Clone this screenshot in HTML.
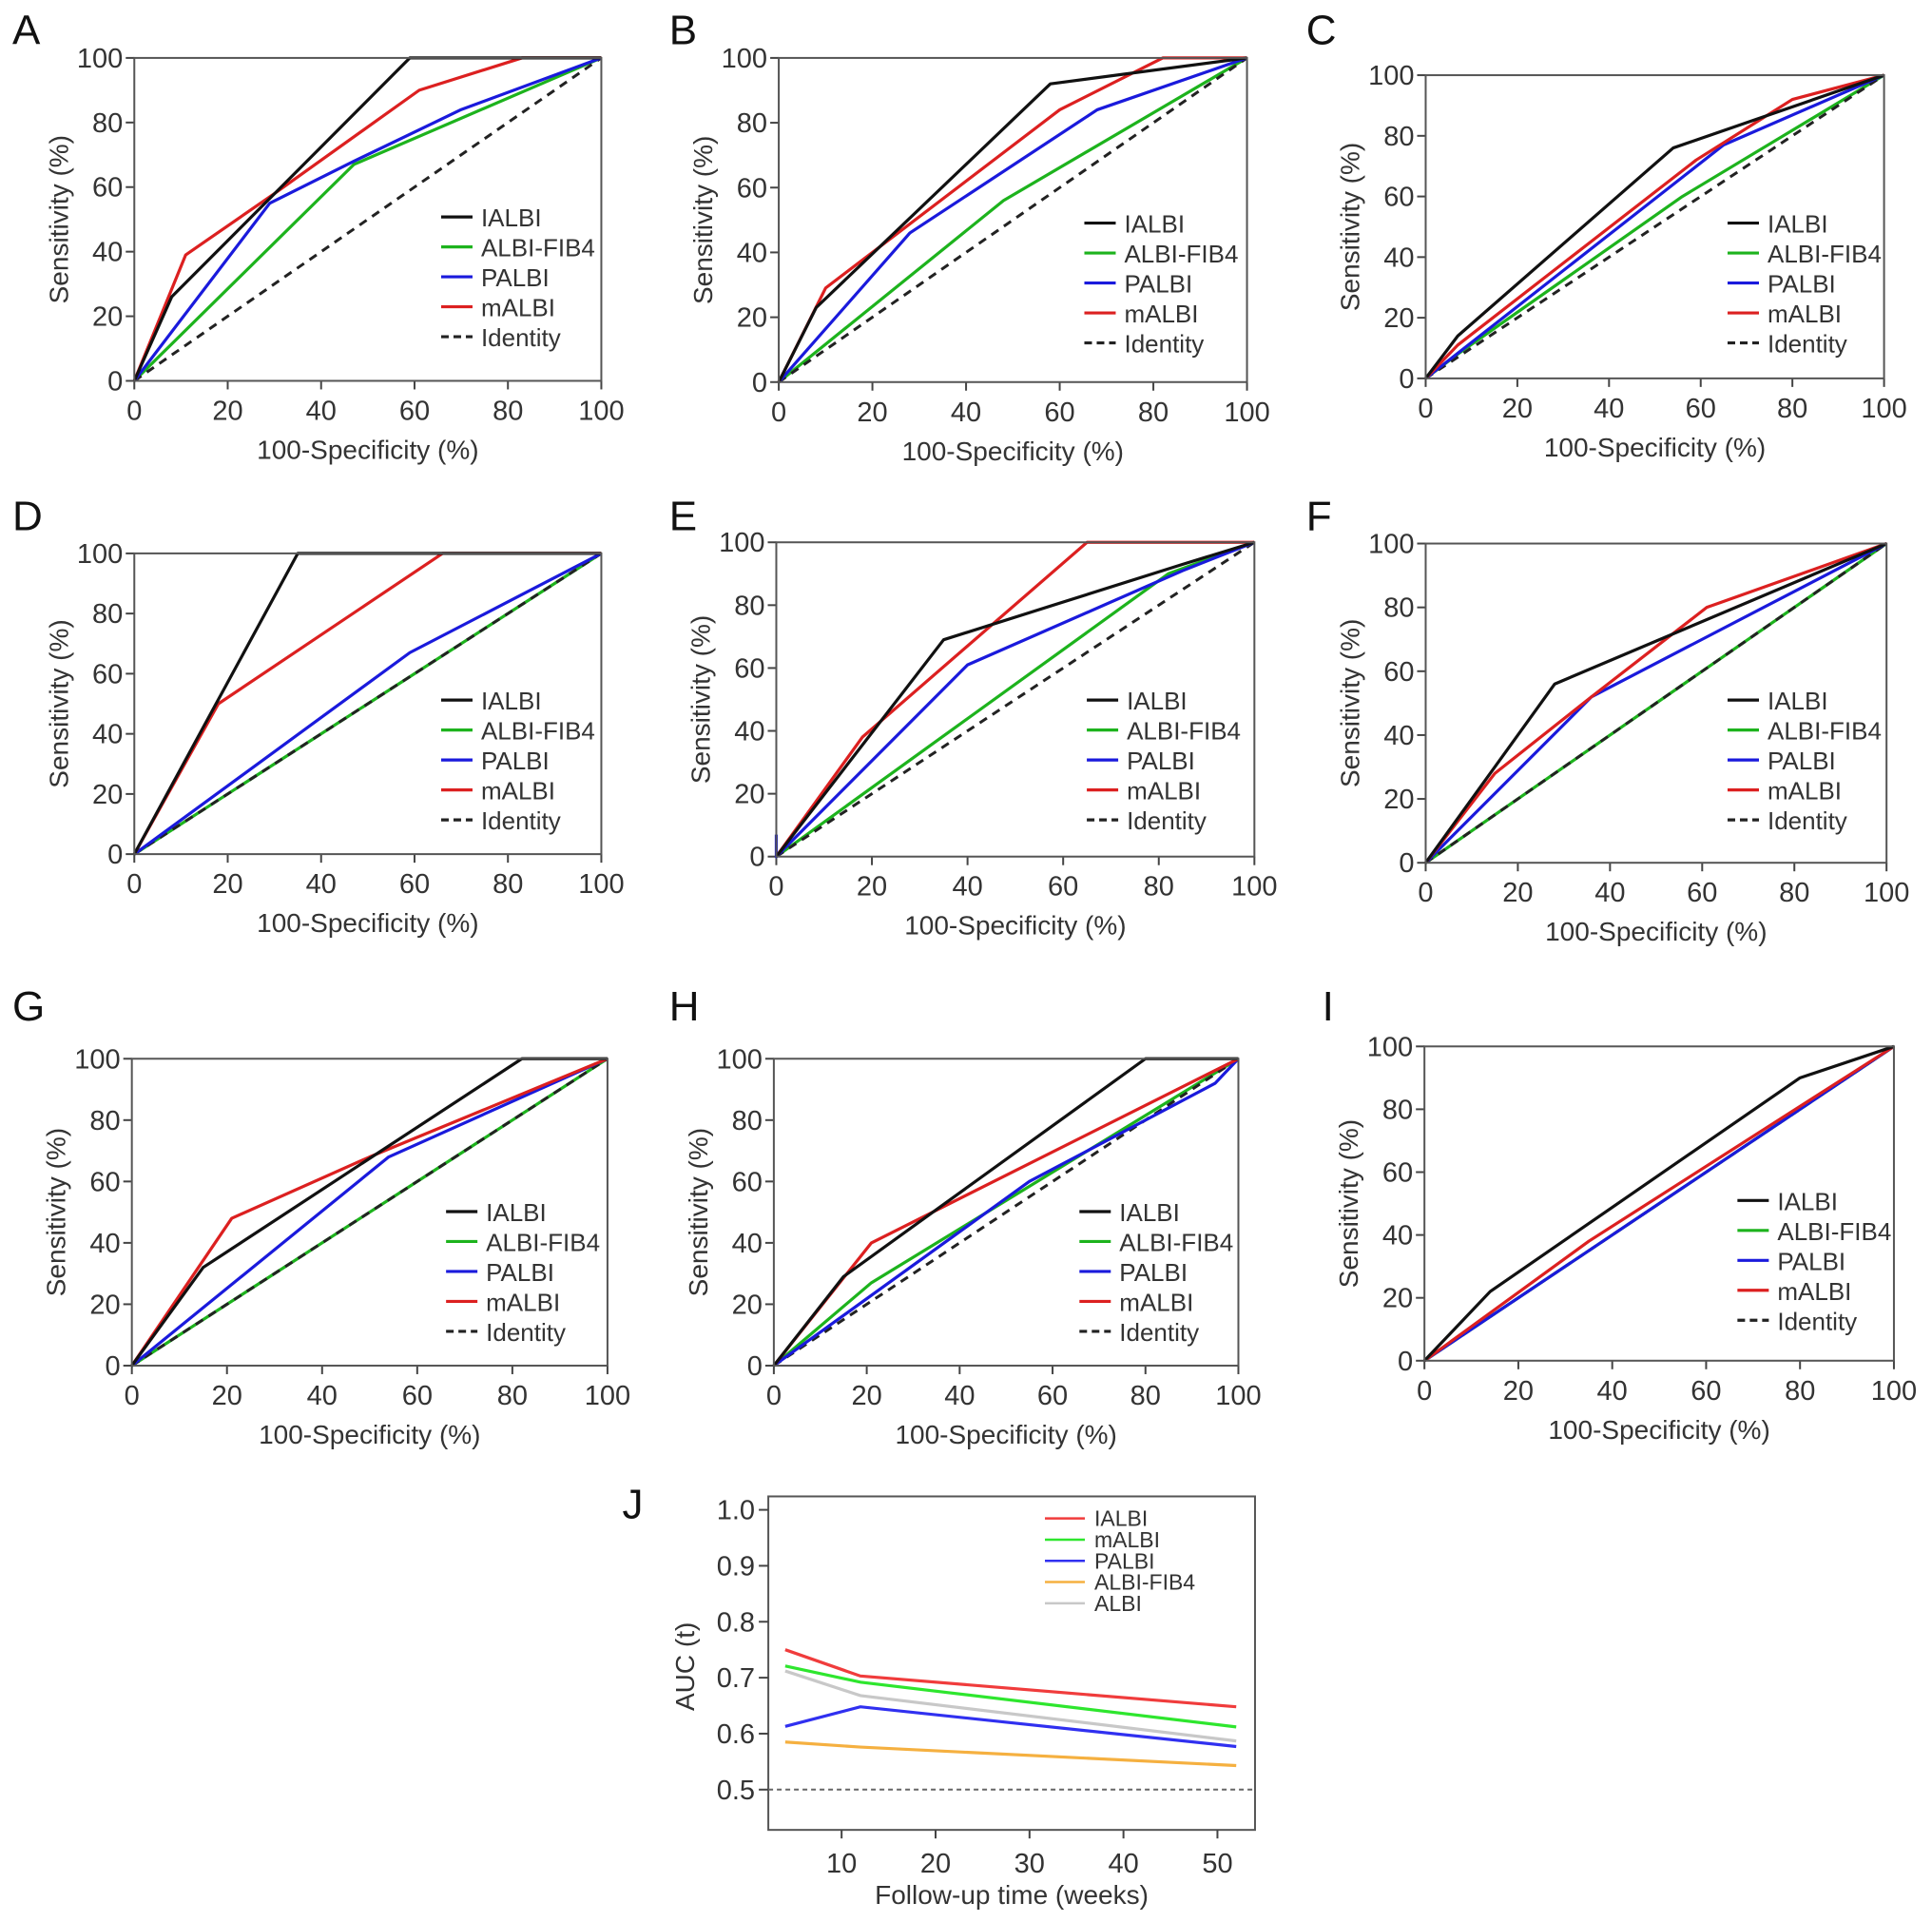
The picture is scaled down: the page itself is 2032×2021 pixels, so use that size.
<!DOCTYPE html>
<html><head><meta charset="utf-8"><style>
html,body{margin:0;padding:0;background:#fff;}
svg{display:block;font-family:"Liberation Sans",Arial,sans-serif;}
</style></head><body>
<svg id="fig" width="2032" height="2021" viewBox="0 0 2032 2021" xmlns="http://www.w3.org/2000/svg"></svg>
<script>
// ---------- data ----------
const seriesNames = ["IALBI","ALBI-FIB4","PALBI","mALBI"];
const seriesColors = {"IALBI":"#111","ALBI-FIB4":"#1db31d","PALBI":"#1a1adc","mALBI":"#dc2020"};
const xTicks = [0,20,40,60,80,100];
const yTicks = [0,20,40,60,80,100];
const panelLetters = ["A","B","C","D","E","F","G","H","I"];
const rocA = {"IALBI":[[0,0],[8,26],[59,100],[100,100]],"mALBI":[[0,0],[11,39],[30,58],[61,90],[83,100],[100,100]],"PALBI":[[0,0],[29,55],[47,68],[70,84],[100,100]],"ALBI-FIB4":[[0,0],[47,67],[100,100]]};
const rocB = {"IALBI":[[0,0],[8,23],[58,92],[100,100]],"mALBI":[[0,0],[10,29],[60,84],[82,100],[100,100]],"PALBI":[[0,0],[28,46],[68,84],[100,100]],"ALBI-FIB4":[[0,0],[48,56],[100,100]]};
const rocC = {"IALBI":[[0,0],[7,14],[54,76],[100,100]],"mALBI":[[0,0],[7,11],[59,72],[80,92],[100,100]],"PALBI":[[0,0],[65,77],[100,100]],"ALBI-FIB4":[[0,0],[7,8],[56,60],[100,100]]};
const rocD = {"IALBI":[[0,0],[35,100],[100,100]],"mALBI":[[0,0],[18,50],[66,100],[100,100]],"PALBI":[[0,0],[59,67],[100,100]],"ALBI-FIB4":[[0,0],[100,100]]};
const rocE = {"IALBI":[[0,0],[35,69],[85,93],[100,100]],"mALBI":[[0,0],[18,38],[65,100],[100,100]],"PALBI":[[0,7],[0,0],[40,61],[85,91],[100,100]],"ALBI-FIB4":[[0,0],[82,90],[100,100]]};
const rocF = {"IALBI":[[0,0],[28,56],[100,100]],"mALBI":[[0,0],[15,28],[36,52],[61,80],[100,100]],"PALBI":[[0,0],[36,52],[100,100]],"ALBI-FIB4":[[0,0],[100,100]]};
const rocG = {"IALBI":[[0,0],[15,32],[82,100],[100,100]],"mALBI":[[0,0],[21,48],[50,68],[100,100]],"PALBI":[[0,0],[54,68],[100,100]],"ALBI-FIB4":[[0,0],[100,100]]};
const rocH = {"IALBI":[[0,0],[15,29],[80,100],[100,100]],"mALBI":[[0,0],[21,40],[100,100]],"PALBI":[[0,0],[55,60],[95,92],[100,100]],"ALBI-FIB4":[[0,0],[21,27],[100,100]]};
const rocI = {"IALBI":[[0,0],[14,22],[80,90],[100,100]],"mALBI":[[0,0],[35,38],[100,100]],"PALBI":[[0,0],[100,100]],"ALBI-FIB4":[[0,0],[100,100]]};
const rocData = [rocA,rocB,rocC,rocD,rocE,rocF,rocG,rocH,rocI];

const jWeeks = [4,12,52];
const jIALBI = [0.750,0.703,0.648];
const jmALBI = [0.721,0.692,0.612];
const jPALBI = [0.613,0.648,0.577];
const jFIB4 = [0.585,0.576,0.543];
const jALBI = [0.712,0.668,0.587];
const jNames = ["IALBI","mALBI","PALBI","ALBI-FIB4","ALBI"];
const jColors = ["#f03c3c","#2ee62e","#3030f0","#f5b040","#c8c8c8"];
const jXTicks = [10,20,30,40,50];
const jYTicks = [0.5,0.6,0.7,0.8,0.9,1.0];
const jYTickLabels = ["0.5","0.6","0.7","0.8","0.9","1.0"];

// ---------- layout (display coords * S) ----------
const S = 1.296;
const layouts = [
 {l:109,r:488,t:47,b:309,lx:358,ly:176,px:10,py:36},
 {l:632,r:1012,t:47,b:310,lx:880,ly:181,px:543,py:36},
 {l:1157,r:1529,t:61,b:307,lx:1402,ly:181,px:1060,py:36},
 {l:109,r:488,t:449,b:693,lx:358,ly:568,px:10,py:430},
 {l:630,r:1018,t:440,b:695,lx:882,ly:568,px:543,py:430},
 {l:1157,r:1531,t:441,b:700,lx:1402,ly:568,px:1060,py:430},
 {l:107,r:493,t:859,b:1108,lx:362,ly:983,px:10,py:828},
 {l:628,r:1005,t:859,b:1108,lx:876,ly:983,px:543,py:828},
 {l:1156,r:1537,t:849,b:1104,lx:1410,ly:974,px:1073,py:828}
];
const NS = "http://www.w3.org/2000/svg";
const fig = document.getElementById('fig');
function mk(tag, attrs, parent){const e=document.createElementNS(NS,tag);for(const k in attrs)e.setAttribute(k,attrs[k]);(parent||fig).appendChild(e);return e;}

layouts.forEach((L,i)=>{
  const g = mk('g',{});
  
  
  const l=L.l*S,r=L.r*S,t=L.t*S,b=L.b*S;
  const xs=v=>l+(r-l)*v/100, ys=v=>b-(b-t)*v/100;
  const lt=mk('text',{x:L.px*S,y:L.py*S,'font-size':44,fill:'#111'},g);lt.textContent=panelLetters[i];
  
  
  xTicks.forEach(v=>{
    mk('line',{x1:xs(v),x2:xs(v),y1:b,y2:b+9,stroke:'#444','stroke-width':2},g);
    const tx=mk('text',{x:xs(v),y:b+41,'font-size':29,'text-anchor':'middle',fill:'#333'},g);tx.textContent=v;
    
    
  });
  yTicks.forEach(v=>{
    mk('line',{x1:l-9,x2:l,y1:ys(v),y2:ys(v),stroke:'#444','stroke-width':2},g);
    const ty=mk('text',{x:l-12,y:ys(v)+10,'font-size':29,'text-anchor':'end',fill:'#333'},g);ty.textContent=v;
    
    
  });
  const xt=mk('text',{x:(l+r)/2,y:b+82,'font-size':28,'text-anchor':'middle',fill:'#333'},g);xt.textContent='100-Specificity (%)';
  
  
  const cy=(t+b)/2, cx=l-70;
  const yt=mk('text',{x:cx,y:cy,'font-size':28,'text-anchor':'middle',fill:'#333',transform:`rotate(-90 ${cx} ${cy})`},g);yt.textContent='Sensitivity (%)';
  
  
  const D=rocData[i];
  ["ALBI-FIB4","IDENT","PALBI","mALBI","IALBI"].forEach(n=>{
    if(n==="IDENT"){
      const id=mk('line',{x1:xs(0),y1:ys(0),x2:xs(100),y2:ys(100),stroke:'#222','stroke-width':3,'stroke-dasharray':'9 7'},g);
      
      
      return;
    }
    const pts=D[n].map(p=>xs(p[0])+','+ys(p[1])).join(' ');
    const pl=mk('polyline',{points:pts,fill:'none',stroke:seriesColors[n],'stroke-width':3.2,'stroke-linejoin':'round'},g);
    
    
  });
  mk('rect',{x:l,y:t,width:r-l,height:b-t,fill:'none',stroke:'#555','stroke-width':2},g);
  const items=seriesNames.concat(['Identity']);
  items.forEach((n,k)=>{
    const yy=(L.ly+k*24.3)*S, x0=L.lx*S;
    const ln=mk('line',{x1:x0,x2:x0+33,y1:yy,y2:yy,stroke:n==='Identity'?'#222':seriesColors[n],'stroke-width':3.2,'stroke-dasharray':n==='Identity'?'8 5':'none'},g);
    
    
    const tx=mk('text',{x:x0+42,y:yy+10,'font-size':26,fill:'#333'},g);tx.textContent=n;
    
    
  });
});

// ---------- panel J ----------
(function(){
  const g=mk('g',{});
  
  
  const X10=683*S, X50=988*S, Y10=1225*S, Y05=1452*S;
  const xs=v=>X10+(v-10)*(X50-X10)/40, ys=v=>Y05-(v-0.5)*(Y05-Y10)/0.5;
  const l=xs(2.2), r=xs(54), t=ys(1.024), b=ys(0.428);
  const lt=mk('text',{x:505*S,y:1232*S,'font-size':44,fill:'#111'},g);lt.textContent='J';
  
  
  mk('rect',{x:l,y:t,width:r-l,height:b-t,fill:'none',stroke:'#555','stroke-width':2},g);
  jXTicks.forEach(v=>{
    mk('line',{x1:xs(v),x2:xs(v),y1:b,y2:b+9,stroke:'#444','stroke-width':2},g);
    const tx=mk('text',{x:xs(v),y:b+45,'font-size':29,'text-anchor':'middle',fill:'#333'},g);tx.textContent=v;
    
    
  });
  jYTicks.forEach((v,k)=>{
    mk('line',{x1:l-10,x2:l,y1:ys(v),y2:ys(v),stroke:'#444','stroke-width':2},g);
    const ty=mk('text',{x:l-14,y:ys(v)+10,'font-size':29,'text-anchor':'end',fill:'#333'},g);ty.textContent=jYTickLabels[k];
    
    
  });
  const ref=mk('line',{x1:l,x2:r,y1:ys(0.5),y2:ys(0.5),stroke:'#666','stroke-width':2,'stroke-dasharray':'5 4'},g);
  
  
  const xt=mk('text',{x:(l+r)/2,y:b+78,'font-size':28,'text-anchor':'middle',fill:'#333'},g);xt.textContent='Follow-up time (weeks)';
  
  
  const cx=l-78, cy=ys(0.72);
  const yt=mk('text',{x:cx,y:cy,'font-size':28,'text-anchor':'middle',fill:'#333',transform:`rotate(-90 ${cx} ${cy})`},g);yt.textContent='AUC (t)';
  
  
  const vals=[jIALBI,jmALBI,jPALBI,jFIB4,jALBI];
  [4,3,2,1,0].forEach(k=>{
    const pts=jWeeks.map((w,m)=>xs(w)+','+ys(vals[k][m])).join(' ');
    const pl=mk('polyline',{points:pts,fill:'none',stroke:jColors[k],'stroke-width':3.2},g);
    
    
  });
  jNames.forEach((n,k)=>{
    const yy=(1232+k*17.2)*S, x0=848*S;
    const ln=mk('line',{x1:x0,x2:x0+42,y1:yy,y2:yy,stroke:jColors[k],'stroke-width':2.5},g);
    
    
    const tx=mk('text',{x:x0+52,y:yy+8,'font-size':23,fill:'#333'},g);tx.textContent=n;
    
    
  });
})();
</script>
</body></html>
